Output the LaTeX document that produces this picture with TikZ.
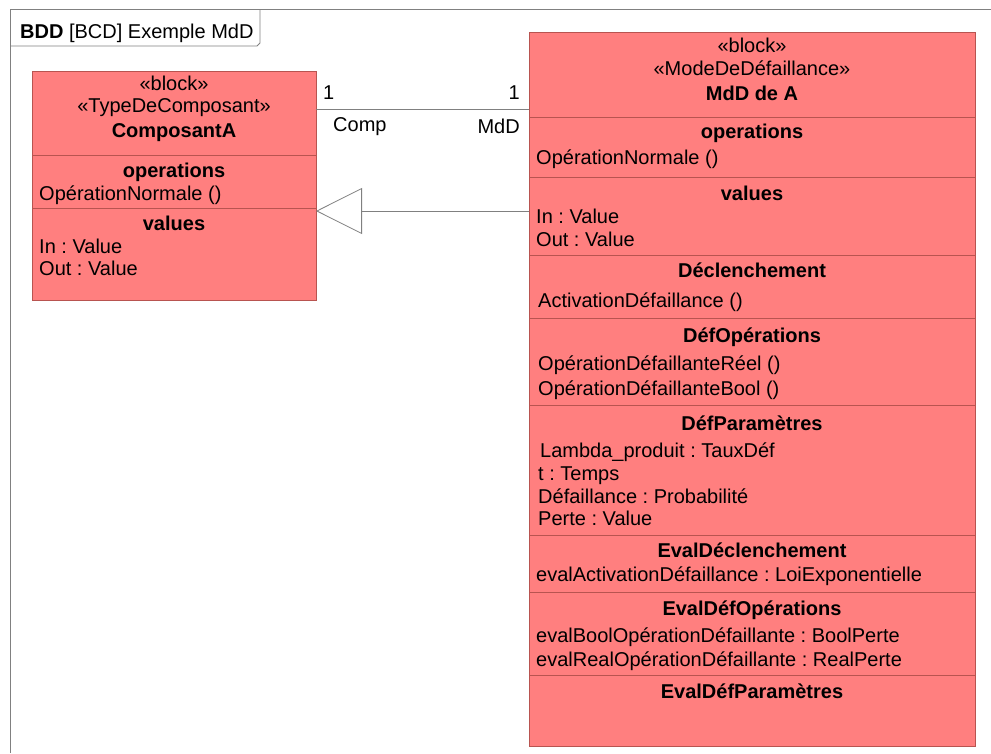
\documentclass[tikz,border=0pt]{standalone}
\usepackage{fontspec}
\setmainfont{Liberation Sans}
\usetikzlibrary{arrows.meta,calc}
\definecolor{blkfill}{HTML}{FF7F7F}
\definecolor{blkdraw}{HTML}{B85450}
\definecolor{frm}{HTML}{808080}
\frenchspacing
\begin{document}
\begin{tikzpicture}[x=1pt,y=-1pt,
  blockbox/.style={draw=blkdraw, fill=blkfill, line width=0.9pt, inner sep=0pt, outer sep=0pt, anchor=north west},
  sepline/.style={draw=blkdraw, line width=0.9pt},
  txt/.style={font=\fontsize{20}{23}\selectfont, inner sep=0pt, anchor=base},
  ltxt/.style={txt, anchor=base west},
  btxt/.style={txt, font=\fontsize{20}{23}\selectfont\bfseries},
  conn/.style={draw=frm, line width=0.8pt}
]
\useasboundingbox (0,0) rectangle (991,753);
% frame
\draw[frm, line width=0.8pt] (10,753) -- (10,9) -- (991,9);
\draw[frm, line width=0.8pt] (10,46) -- (257,46) -- (260,43) -- (260,9);
\node[ltxt] (title) at (20,38) {\textbf{BDD} [BCD] Exemple MdD};

% left block
\node[blockbox, minimum width=284pt, minimum height=229pt] (A) at (32,71) {};
\draw[sepline] (A.west |- 0,155) -- (A.east |- 0,155);
\draw[sepline] (A.west |- 0,208) -- (A.east |- 0,208);
\node[txt] (a1) at (174,90) {«block»};
\node[txt] (a2) at (174,112) {«TypeDeComposant»};
\node[btxt] (a3) at (174,137) {ComposantA};
\node[btxt] (a4) at (174,177) {operations};
\node[ltxt] (a5) at (39,200) {OpérationNormale ()};
\node[btxt] (a6) at (174,230) {values};
\node[ltxt] (a7) at (39,253) {In : Value};
\node[ltxt] (a8) at (39,275) {Out : Value};

% right block
\node[blockbox, minimum width=446pt, minimum height=714pt] (B) at (529,32) {};
\foreach \yy in {117,177,255,318,405,535,592,675}
  \draw[sepline] (B.west |- 0,\yy) -- (B.east |- 0,\yy);
\node[txt] (b1) at (752,52) {«block»};
\node[txt] (b2) at (752,75) {«ModeDeDéfaillance»};
\node[btxt] (b3) at (752,100) {MdD de A};
\node[btxt] (b4) at (752,138) {operations};
\node[ltxt] (b5) at (536,164) {OpérationNormale ()};
\node[btxt] (b6) at (752,200) {values};
\node[ltxt] (b7) at (536,223) {In : Value};
\node[ltxt] (b8) at (536,246) {Out : Value};
\node[btxt] (b9) at (752,277) {Déclenchement};
\node[ltxt] (b10) at (538,307) {ActivationDéfaillance ()};
\node[btxt] (b11) at (752,342) {DéfOpérations};
\node[ltxt] (b12) at (538,370) {OpérationDéfaillanteRéel ()};
\node[ltxt] (b13) at (538,395) {OpérationDéfaillanteBool ()};
\node[btxt] (b14) at (752,430) {DéfParamètres};
\node[ltxt] (b15) at (540,457) {Lambda\_produit : TauxDéf};
\node[ltxt] (b16) at (538,480) {t : Temps};
\node[ltxt] (b17) at (538,503) {Défaillance : Probabilité};
\node[ltxt] (b18) at (538,525) {Perte : Value};
\node[btxt] (b19) at (752,557) {EvalDéclenchement};
\node[ltxt] (b20) at (536,581) {evalActivationDéfaillance : LoiExponentielle};
\node[btxt] (b21) at (752,615) {EvalDéfOpérations};
\node[ltxt] (b22) at (536,642) {evalBoolOpérationDéfaillante : BoolPerte};
\node[ltxt] (b23) at (536,666) {evalRealOpérationDéfaillante : RealPerte};
\node[btxt] (b24) at (752,698) {EvalDéfParamètres};

% association
\coordinate (assocA) at ($(A.north east)+(0,38)$);
\draw[conn] (assocA) -- (assocA -| B.west);
\node[ltxt] (m1) at (323,99) {1};
\node[txt, anchor=base east] (m2) at (520,99) {1};
\node[ltxt] (r1) at (333,131) {Comp};
\node[txt, anchor=base east] (r2) at (520,133) {MdD};

% generalization
\coordinate (genA) at ($(A.north east)+(0,140)$);
\draw[conn, -{Triangle[open, length=46pt, width=46pt]}] (genA -| B.west) -- (genA);
\end{tikzpicture}
\end{document}
